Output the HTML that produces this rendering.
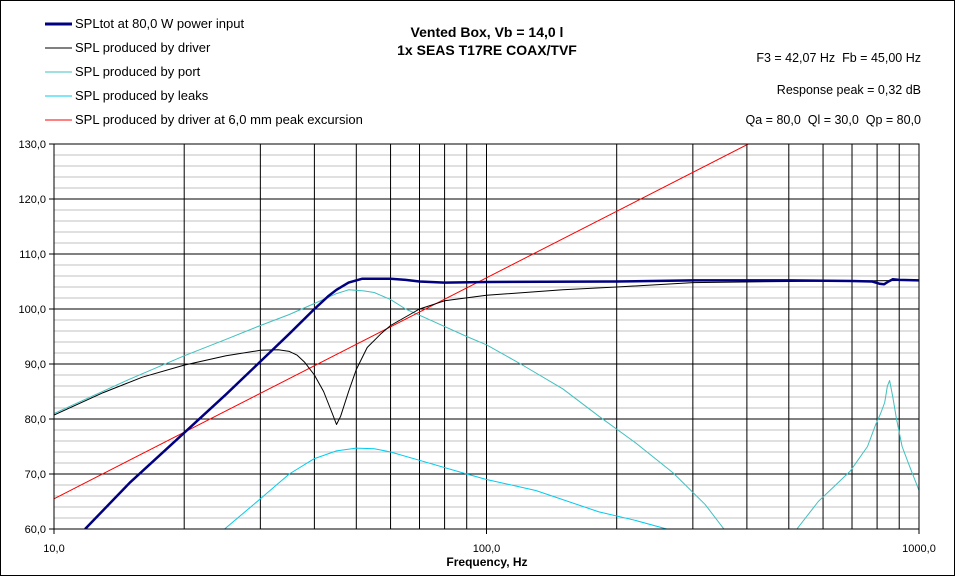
<!DOCTYPE html>
<html><head><meta charset="utf-8"><style>
body{margin:0;background:#fff;}
svg{display:block;font-family:"Liberation Sans",Arial,sans-serif;}
</style></head><body>
<svg id="chart" width="956" height="577" viewBox="0 0 956 577" xmlns="http://www.w3.org/2000/svg">
<rect x="0.5" y="0.5" width="954" height="575" fill="#fff" stroke="#000"/>
<g id="grid"></g>
<g id="series"></g>
<g id="axes"></g>
<g font-size="13">
 <line x1="45" y1="24" x2="72" y2="24" stroke="#000080" stroke-width="3"/><text x="75" y="28">SPLtot at 80,0 W power input</text>
 <line x1="45" y1="48" x2="72" y2="48" stroke="#000" stroke-width="1"/><text x="75" y="52">SPL produced by driver</text>
 <line x1="45" y1="72" x2="72" y2="72" stroke="#40c0c0" stroke-width="1"/><text x="75" y="76">SPL produced by port</text>
 <line x1="45" y1="96" x2="72" y2="96" stroke="#00ccf0" stroke-width="1"/><text x="75" y="100">SPL produced by leaks</text>
 <line x1="45" y1="120" x2="72" y2="120" stroke="#f00" stroke-width="1"/><text x="75" y="124">SPL produced by driver at 6,0 mm peak excursion</text>
</g>
<text x="487" y="37" text-anchor="middle" font-size="14" font-weight="bold">Vented Box, Vb = 14,0 l</text>
<text x="487" y="55" text-anchor="middle" font-size="14" font-weight="bold">1x SEAS T17RE COAX/TVF</text>
<g font-size="12.5" text-anchor="end">
 <text x="921" y="62">F3 = 42,07 Hz&#160;&#160;Fb = 45,00 Hz</text>
 <text x="921" y="94">Response peak = 0,32 dB</text>
 <text x="921" y="124">Qa = 80,0&#160;&#160;Ql = 30,0&#160;&#160;Qp = 80,0</text>
</g>
<text x="487" y="566" text-anchor="middle" font-size="12" font-weight="bold">Frequency, Hz</text>
</svg>
<script>
const yTicks=[60,70,80,90,100,110,120,130];
const xTickLabels=[[10,"10,0"],[100,"100,0"],[1000,"1000,0"]];
const totF=[11.8,15,20,25,29.6,35,40,43,45,48,51.5,60,65,70,80,100,200,300,500,700,780,810,830,850,870,900,1000];
const totV=[60,68.5,77.5,84.5,90,95.5,100,102.3,103.5,104.8,105.5,105.5,105.3,105,104.8,104.9,105,105.2,105.2,105.1,105,104.6,104.5,105,105.4,105.3,105.2];
const drvF=[10,13,16,20,25,30,33,35,36.5,38,40,42,44,45,46,48,50,53,57,60,70,80,100,150,200,300,500,1000];
const drvV=[80.7,84.8,87.6,89.8,91.5,92.5,92.6,92.3,91.6,90.3,88,85,81,79,80.5,85,89,93,95.5,97,100,101.5,102.5,103.5,104,104.8,105,105.2];
const exF=[10,403];
const exV=[65.5,130];
const portF=[10,15,20,25,30,35,40,45,48,52,55,60,65,75,90,100,120,150,182,220,270,320,354];
const portV=[81,87.3,91.5,94.5,97,99,101,102.8,103.5,103.3,103,101.7,100,97.8,95,93.5,90,85.5,80.5,75.8,70.2,64.5,60];
const port2F=[522,585,693,760,794,815,833,845,855,870,887,914,950,1000];
const port2V=[60,65,70.5,75,79,81,83,86,87,84,80,75,71.5,67];
const leakF=[24.8,30,35,40,45,50,55,60,70,90,100,130,182,220,261];
const leakV=[60,65.5,70,72.8,74.2,74.7,74.6,74,72.5,70,69,67,63.1,61.6,60];

const X0=54,X1=919,Y0=529,Y1=144;
const xs=f=>X0+(Math.log10(f)-1)/2*(X1-X0);
const ys=v=>Y0-(v-60)/70*(Y0-Y1);
const NS="http://www.w3.org/2000/svg";
function mk(tag,attrs,parent){const e=document.createElementNS(NS,tag);for(const k in attrs)e.setAttribute(k,attrs[k]);document.getElementById(parent).appendChild(e);return e;}
for(let v=60;v<=130;v+=2){
 if(v%10===0)continue;
 const l=mk('line',{x1:X0,x2:X1,y1:ys(v),y2:ys(v),stroke:'#c0c0c0','stroke-width':1},'grid');
 
 
}
yTicks.forEach(v=>{
 const l=mk('line',{x1:X0-5,x2:X1,y1:ys(v),y2:ys(v),stroke:'#000','stroke-width':1},'grid');
 
 
 const t=mk('text',{x:X0-8,y:ys(v)+4,'text-anchor':'end','font-size':11},'axes');
 t.textContent=v.toFixed(1).replace('.',',');
 
 
});
for(let d=10;d<=100;d*=10)for(let m=1;m<=10;m++){
 const f=d*m; if(f>1000||(m===10&&d===10))continue;
 const x=xs(f);
 const l=mk('line',{x1:x,x2:x,y1:Y1,y2:Y0+((m===1||f===1000)?5:0),stroke:'#000','stroke-width':1},'grid');
 
 
}
xTickLabels.forEach(([f,s])=>{
 const t=mk('text',{x:xs(f),y:552,'text-anchor':'middle','font-size':11},'axes');
 t.textContent=s;
 
 
});
mk('rect',{x:X0,y:Y1,width:X1-X0,height:Y0-Y1,fill:'none',stroke:'#000'},'axes');
function series(F,V,color,w,name){
 const pts=F.map((f,i)=>xs(f).toFixed(1)+','+ys(V[i]).toFixed(1)).join(' ');
 const p=mk('polyline',{points:pts,fill:'none',stroke:color,'stroke-width':w,'stroke-linejoin':'round','clip-path':'url(#clip)'},'series');
 
 
}
const cp=mk('clipPath',{id:'clip'},'series');
const r=document.createElementNS(NS,'rect');r.setAttribute('x',X0);r.setAttribute('y',Y1);r.setAttribute('width',X1-X0);r.setAttribute('height',Y0-Y1);cp.appendChild(r);
series(leakF,leakV,'#00ccf0',1,'leaks-line');
series(portF,portV,'#40c0c0',1,'port-line');
series(port2F,port2V,'#40c0c0',1,'port-resonance-line');
series(exF,exV,'#ff0000',1,'excursion-line');
series(drvF,drvV,'#000000',1,'driver-line');
series(totF,totV,'#000080',2.5,'spltot-line');
</script>
</body></html>
